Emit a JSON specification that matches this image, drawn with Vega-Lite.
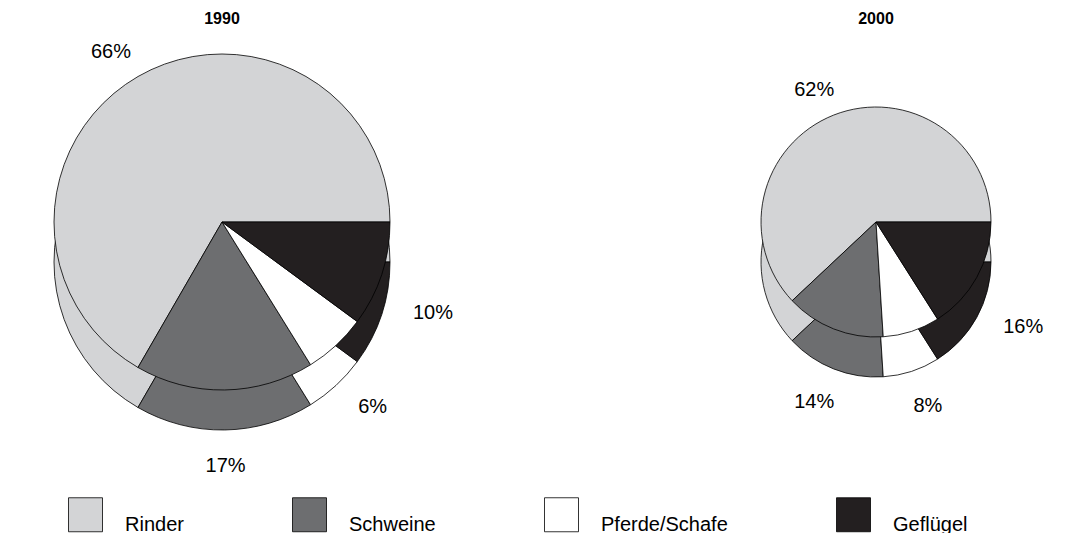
{
  "$schema": "https://vega.github.io/schema/vega-lite/v6.json",
  "padding": {"top": 11, "left": 0, "right": 0, "bottom": 0},
  "spacing": 233,
  "background": "white",
  "datasets": {
    "d": [
      {"year": 1990, "kind": "Rinder", "value": 66, "label": "66%", "ord": 4},
      {"year": 1990, "kind": "Schweine", "value": 17, "label": "17%", "ord": 3},
      {"year": 1990, "kind": "Pferde/Schafe", "value": 6, "label": "6%", "ord": 2},
      {"year": 1990, "kind": "Geflügel", "value": 10, "label": "10%", "ord": 1},
      {"year": 2000, "kind": "Rinder", "value": 62, "label": "62%", "ord": 4},
      {"year": 2000, "kind": "Schweine", "value": 14, "label": "14%", "ord": 3},
      {"year": 2000, "kind": "Pferde/Schafe", "value": 8, "label": "8%", "ord": 2},
      {"year": 2000, "kind": "Geflügel", "value": 16, "label": "16%", "ord": 1}
    ]
  },
  "hconcat": [
    {
      "width": 444,
      "height": 378,
      "title": {"text": "1990"},
      "data": {"name": "d"},
      "transform": [{"filter": "datum.year == 1990"}],
      "encoding": {
        "theta": {"field": "value", "type": "quantitative", "stack": true, "scale": {"range": [1.5708, 7.854]}},
        "order": {"field": "ord", "type": "quantitative"},
        "color": {
          "field": "kind", "type": "nominal",
          "scale": {"domain": ["Rinder", "Schweine", "Pferde/Schafe", "Geflügel"], "range": ["#d3d4d6", "#6d6e70", "#ffffff", "#231f20"]},
          "legend": {"orient": "none", "legendX": 68, "legendY": 464, "direction": "horizontal", "columns": 4, "columnPadding": 106, "symbolType": "M-1,-1H1V1H-1Z", "symbolSize": 1156, "labelOffset": 22, "labelFontSize": 20, "labelBaseline": "top", "labelFont": "Liberation Sans", "labelColor": "#000", "labelLimit": 300, "title": null, "symbolStrokeColor": "#000", "symbolStrokeWidth": 0.8, "symbolOpacity": 1}
        }
      },
      "layer": [
        {"mark": {"type": "arc", "outerRadius": 168, "stroke": "#000", "strokeWidth": 0.8, "yOffset": 40}},
        {"mark": {"type": "arc", "outerRadius": 168, "stroke": "#000", "strokeWidth": 0.8}},
        {"mark": {"type": "text", "radius": 222, "yOffset": 22, "fontSize": 20, "font": "Liberation Sans"},
         "encoding": {"text": {"field": "label"}, "color": {"value": "#000"}}}
      ]
    },
    {
      "width": 380,
      "height": 378,
      "title": {"text": "2000"},
      "data": {"name": "d"},
      "transform": [{"filter": "datum.year == 2000"}],
      "encoding": {
        "theta": {"field": "value", "type": "quantitative", "stack": true, "scale": {"range": [1.5708, 7.854]}},
        "order": {"field": "ord", "type": "quantitative"},
        "color": {
          "field": "kind", "type": "nominal",
          "scale": {"domain": ["Rinder", "Schweine", "Pferde/Schafe", "Geflügel"], "range": ["#d3d4d6", "#6d6e70", "#ffffff", "#231f20"]},
          "legend": {"orient": "none", "legendX": 68, "legendY": 464, "direction": "horizontal", "columns": 4, "columnPadding": 106, "symbolType": "M-1,-1H1V1H-1Z", "symbolSize": 1156, "labelOffset": 22, "labelFontSize": 20, "labelBaseline": "top", "labelFont": "Liberation Sans", "labelColor": "#000", "labelLimit": 300, "title": null, "symbolStrokeColor": "#000", "symbolStrokeWidth": 0.8, "symbolOpacity": 1}
        }
      },
      "layer": [
        {"mark": {"type": "arc", "outerRadius": 115, "stroke": "#000", "strokeWidth": 0.8, "yOffset": 40}},
        {"mark": {"type": "arc", "outerRadius": 115, "stroke": "#000", "strokeWidth": 0.8}},
        {"mark": {"type": "text", "radius": 168, "yOffset": 24, "fontSize": 20, "font": "Liberation Sans"},
         "encoding": {"text": {"field": "label"}, "color": {"value": "#000"}}}
      ]
    }
  ],
  "resolve": {"scale": {"color": "shared", "theta": "independent"}},
  "config": {
    "view": {"stroke": null},
    "font": "Liberation Sans",
    "title": {"fontSize": 16, "fontWeight": "bold", "font": "Liberation Sans", "color": "#000", "offset": 6}
  }
}
